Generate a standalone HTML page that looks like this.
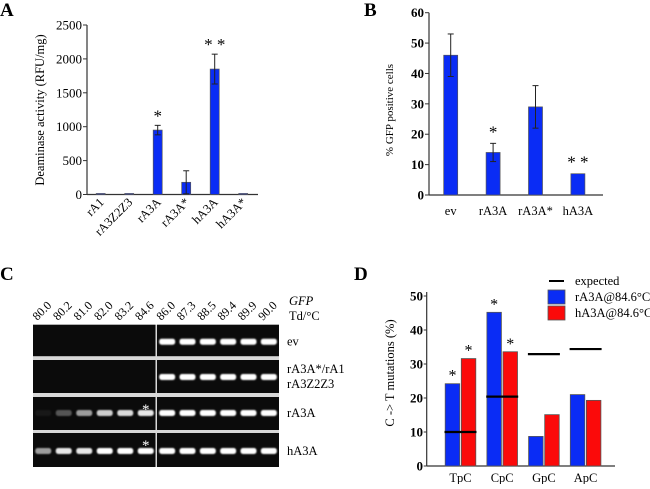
<!DOCTYPE html>
<html><head><meta charset="utf-8"><style>
body{margin:0;background:#fff}
svg, svg text{font-family:"Liberation Serif","Times New Roman",serif}
</style></head><body>
<svg id="fig" width="650" height="484" viewBox="0 0 650 484" font-family="Liberation Serif, serif">
<defs><filter id="blur" x="-20%" y="-100%" width="140%" height="300%"><feGaussianBlur stdDeviation="0.8"/></filter></defs>
<text x="0" y="16" font-size="19" font-weight="bold" font-family="Liberation Serif, serif">A</text>
<text x="364" y="16" font-size="19" font-weight="bold" font-family="Liberation Serif, serif">B</text>
<text x="0" y="280" font-size="19" font-weight="bold" font-family="Liberation Serif, serif">C</text>
<text x="354" y="280" font-size="19" font-weight="bold" font-family="Liberation Serif, serif">D</text>
<g id="gA"></g>
<g id="gB"></g>
<g id="gC"></g>
<g id="gD"></g>
</svg>
<script>
// Panel A data
const aCats=["rA1","rA3Z2Z3","rA3A","rA3A*","hA3A","hA3A*"];
const aVals=[15,15,950,180,1850,15];
const aErr=[0,0,70,170,220,0];
const aStars=["","","*","","**",""];
const aTicks=[0,500,1000,1500,2000,2500];
// Panel B data
const bCats=["ev","rA3A","rA3A*","hA3A"];
const bVals=[46,14,29,7];
const bErr=[7,3,7,0];
const bStars=["","*","","**"];
const bTicks=[0,10,20,30,40,50,60];
// Panel C data
const cTemps=["80.0","80.2","81.0","82.0","83.2","84.6","86.0","87.3","88.5","89.4","89.9","90.0"];
const cRows=["ev","rA3A*/rA1|rA3Z2Z3","rA3A","hA3A"];
const cEv=[0,0,0,0,0,0,1,1,1,1,1,1];
const cMut=[0,0,0,0,0,0,1,1,1,1,1,1];
const cRA3A=[0.05,0.3,0.6,0.8,0.85,0.9,1,1,1,1,1,1];
const cHA3A=[0.6,0.9,0.9,1,1,1,1,1,1,1,1,1];
// Panel D data
const dCats=["TpC","CpC","GpC","ApC"];
const dBlue=[24.2,45.2,8.7,21];
const dRed=[31.6,33.6,15.1,19.3];
const dExp=[10,20.4,32.9,34.4];
const dBlueStar=["*","*","",""];
const dRedStar=["*","*","",""];
const dTicks=[0,10,20,30,40,50];

const NS="http://www.w3.org/2000/svg";
function mk(p,t,a,txt){const e=document.createElementNS(NS,t);for(const k in a)e.setAttribute(k,a[k]);if(t==='text')e.setAttribute('font-family','Liberation Serif, serif');if(txt!==undefined)e.textContent=txt;p.appendChild(e);return e;}

// ---- Panel A
(function(){
const g=document.getElementById('gA');
const x0=87,x1=258,y0=194.5,yTop=25,max=2500;
const y=v=>y0-(v/max)*(y0-yTop);
const xc=i=>100.7+i*28.5;
let e=mk(g,'line',{x1:x0,y1:yTop,x2:x0,y2:y0,stroke:'#333','stroke-width':1.2});

e=mk(g,'line',{x1:x0,y1:y0,x2:x1,y2:y0,stroke:'#333','stroke-width':1.2});

aTicks.forEach(t=>{mk(g,'line',{x1:x0-4,y1:y(t),x2:x0,y2:y(t),stroke:'#333'});
 e=mk(g,'text',{x:82,y:y(t)+4.5,'font-size':13,'text-anchor':'end'},t);
 });
e=mk(g,'text',{x:0,y:0,'font-size':12.5,'text-anchor':'middle',transform:'translate(44,110) rotate(-90)'},'Deaminase activity (RFU/mg)');

aCats.forEach((c,i)=>{
 e=mk(g,'rect',{x:xc(i)-4.5,y:y(aVals[i]),width:9,height:y0-y(aVals[i]),fill:'#0a2cf5',stroke:'#555','stroke-width':0.7});
 
 if(aErr[i]>0){const yt=y(aVals[i]+aErr[i]),yb=y(Math.max(0,aVals[i]-aErr[i]));
  mk(g,'line',{x1:xc(i),y1:yt,x2:xc(i),y2:yb,stroke:'#222'});
  mk(g,'line',{x1:xc(i)-3,y1:yt,x2:xc(i)+3,y2:yt,stroke:'#222'});
  mk(g,'line',{x1:xc(i)-3,y1:yb,x2:xc(i)+3,y2:yb,stroke:'#222'});}
 if(aStars[i]){e=mk(g,'text',{x:xc(i),y:y(aVals[i]+aErr[i])-4,'font-size':17,'text-anchor':'middle'},aStars[i].split('').join(' '));
  }
 e=mk(g,'text',{x:0,y:0,'font-size':12.5,'text-anchor':'end',transform:`translate(${xc(i)+4},203) rotate(-45)`},c);
 
});
})();

// ---- Panel B
(function(){
const g=document.getElementById('gB');
const x0=429,x1=603,y0=195,yTop=12.7,max=60;
const y=v=>y0-(v/max)*(y0-yTop);
const xc=i=>450.7+i*42.4;
let e=mk(g,'line',{x1:x0,y1:yTop,x2:x0,y2:y0,stroke:'#333','stroke-width':1.2});

e=mk(g,'line',{x1:x0,y1:y0,x2:x1,y2:y0,stroke:'#333','stroke-width':1.2});

bTicks.forEach(t=>{mk(g,'line',{x1:x0-4,y1:y(t),x2:x0,y2:y(t),stroke:'#333'});
 e=mk(g,'text',{x:424,y:y(t)+4.5,'font-size':13,'font-weight':'bold','text-anchor':'end'},t);
 });
e=mk(g,'text',{x:0,y:0,'font-size':11,'text-anchor':'middle',transform:'translate(393,110) rotate(-90)'},'% GFP positive cells');

bCats.forEach((c,i)=>{
 e=mk(g,'rect',{x:xc(i)-7,y:y(bVals[i]),width:14,height:y0-y(bVals[i]),fill:'#0a2cf5',stroke:'#555','stroke-width':0.7});
 
 if(bErr[i]>0){const yt=y(bVals[i]+bErr[i]),yb=y(bVals[i]-bErr[i]);
  mk(g,'line',{x1:xc(i),y1:yt,x2:xc(i),y2:yb,stroke:'#222'});
  mk(g,'line',{x1:xc(i)-3,y1:yt,x2:xc(i)+3,y2:yt,stroke:'#222'});
  mk(g,'line',{x1:xc(i)-3,y1:yb,x2:xc(i)+3,y2:yb,stroke:'#222'});}
 if(bStars[i]){e=mk(g,'text',{x:xc(i),y:y(bVals[i]+bErr[i])-6,'font-size':17,'text-anchor':'middle'},bStars[i].split('').join(' '));
  }
 e=mk(g,'text',{x:xc(i),y:215,'font-size':12.5,'text-anchor':'middle'},c);
 
});
})();

// ---- Panel C
(function(){
const g=document.getElementById('gC');
const gx0=33,gx1=279,div=156;
const rowTop=[324.7,360,397,433],rowH=[31.5,33,33,34];
const data=[cEv,cMut,cRA3A,cHA3A];
const bandOff=[17,17,16,18];
const lw=(div-gx0)/6;
const lx=i=>i<6?gx0+lw*(i+0.5):div+1+((gx1-div-1)/6)*(i-6+0.5);
let e=mk(g,'rect',{x:gx0,y:rowTop[0],width:gx1-gx0,height:467-rowTop[0],fill:'#d8d8d8'});

data.forEach((row,r)=>{
 mk(g,'rect',{x:gx0,y:rowTop[r],width:div-gx0-0.5,height:rowH[r],fill:'#0b0b0b'});
 mk(g,'rect',{x:div+1,y:rowTop[r],width:gx1-div-1,height:rowH[r],fill:'#0b0b0b'});
 row.forEach((v,i)=>{ if(v<=0)return;
  e=mk(g,'rect',{x:lx(i)-8,y:rowTop[r]+bandOff[r]-3,width:16,height:6,rx:2.5,fill:'#fff',opacity:v,filter:'url(#blur)'});
  });
 const lab=cRows[r].split('|');
 lab.forEach((l,k)=>{e=mk(g,'text',{x:287,y:rowTop[r]+(lab.length>1?13+k*15:bandOff[r]+4),'font-size':12.5},l);
  });
});
[2,3].forEach(r=>{e=mk(g,'text',{x:lx(5),y:rowTop[r]+17,'font-size':15,fill:'#fff','text-anchor':'middle'},'*');
 });
cTemps.forEach((t,i)=>{e=mk(g,'text',{x:0,y:0,'font-size':12,transform:`translate(${lx(i)-6},321) rotate(-45)`},t);
 });
e=mk(g,'text',{x:289,y:305,'font-size':12.5,'font-style':'italic'},'GFP');

e=mk(g,'text',{x:289,y:320,'font-size':12.5},'Td/°C');

})();

// ---- Panel D
(function(){
const g=document.getElementById('gD');
const x0=426.7,x1=615,y0=466,yTop=296,max=50;
const y=v=>y0-(v/max)*(y0-yTop);
const gc=i=>460.5+i*41.7;
const bw=14.5;
let e=mk(g,'line',{x1:x0,y1:yTop-4,x2:x0,y2:y0,stroke:'#333','stroke-width':1.2});

e=mk(g,'line',{x1:x0,y1:y0,x2:x1,y2:y0,stroke:'#333','stroke-width':1.2});

dTicks.forEach(t=>{mk(g,'line',{x1:x0-3,y1:y(t),x2:x0,y2:y(t),stroke:'#333'});
 e=mk(g,'text',{x:423,y:y(t)+4.5,'font-size':13,'font-weight':'bold','text-anchor':'end'},t);
 });
e=mk(g,'text',{x:0,y:0,'font-size':12.5,'text-anchor':'middle',transform:'translate(394,373) rotate(-90)'},'C ->  T mutations (%)');

dCats.forEach((c,i)=>{
 e=mk(g,'rect',{x:gc(i)-bw-0.8,y:y(dBlue[i]),width:bw,height:y0-y(dBlue[i]),fill:'#0a2cf5',stroke:'#555','stroke-width':0.8});
 
 e=mk(g,'rect',{x:gc(i)+0.8,y:y(dRed[i]),width:bw,height:y0-y(dRed[i]),fill:'#fb0a0a',stroke:'#555','stroke-width':0.8});
 
 e=mk(g,'line',{x1:gc(i)-bw-1.5,y1:y(dExp[i]),x2:gc(i)+bw+1.5,y2:y(dExp[i]),stroke:'#000','stroke-width':2.2});
 
 if(dBlueStar[i]){e=mk(g,'text',{x:gc(i)-bw/2-0.8,y:y(dBlue[i])-3,'font-size':16,'text-anchor':'middle'},dBlueStar[i]);
  }
 if(dRedStar[i]){e=mk(g,'text',{x:gc(i)+bw/2+0.8,y:y(dRed[i])-3,'font-size':16,'text-anchor':'middle'},dRedStar[i]);
  }
 e=mk(g,'text',{x:gc(i),y:482,'font-size':12.5,'text-anchor':'middle'},c);
 
});
e=mk(g,'line',{x1:549,y1:281,x2:564,y2:281,stroke:'#000','stroke-width':2});

e=mk(g,'text',{x:575,y:285,'font-size':12.5},'expected');

e=mk(g,'rect',{x:548,y:290,width:17,height:14,fill:'#0a2cf5',stroke:'#555','stroke-width':0.8});

e=mk(g,'text',{x:575,y:301,'font-size':12.5},'rA3A@84.6°C');

e=mk(g,'rect',{x:548,y:306,width:17,height:14,fill:'#fb0a0a',stroke:'#555','stroke-width':0.8});

e=mk(g,'text',{x:575,y:317,'font-size':12.5},'hA3A@84.6°C');

})();
</script>
</body></html>
